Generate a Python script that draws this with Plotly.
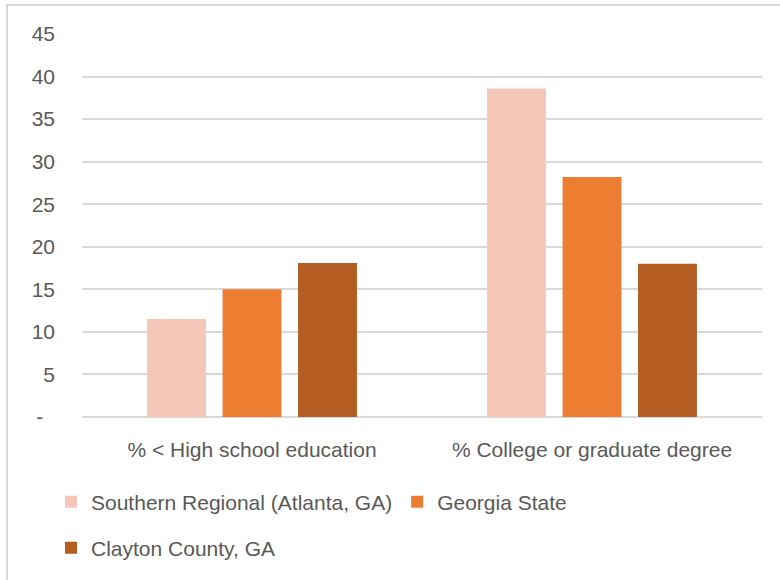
import plotly.graph_objects as go

categories = ["% < High school education", "% College or graduate degree"]
series_names = ["Southern Regional (Atlanta, GA)", "Georgia State", "Clayton County, GA"]
southern = [11.5, 38.6]
georgia = [15.0, 28.2]
clayton = [18.1, 18.0]
colors = ["#F4C7B9", "#ED7D31", "#B45C21"]
tick_vals = [0, 5, 10, 15, 20, 25, 30, 35, 40, 45]
tick_text = ["-\u00a0\u00a0", "5", "10", "15", "20", "25", "30", "35", "40", "45"]

FONT = "Liberation Sans, Arial, sans-serif"
TXT = "#595959"

fig = go.Figure()
for name, vals, col, lg in zip(series_names, [southern, georgia, clayton], colors,
                               ["legend", "legend", "legend2"]):
    fig.add_trace(go.Bar(x=categories, y=vals, name=name, marker_color=col,
                         marker_line_width=0, legend=lg))

W, H = 780, 580
L, R, T, B = 82, 18, 34, 163
pw, ph = W - L - R, H - T - B

def px_x(p):
    return (p - L) / pw

def px_y(p):
    return (H - B - p) / ph

fig.update_layout(
    width=W, height=H,
    margin=dict(l=L, r=R, t=T, b=B),
    paper_bgcolor="white", plot_bgcolor="white",
    font=dict(family=FONT, size=21, color=TXT),
    barmode="group", bargap=0.334, bargroupgap=0.22,
    showlegend=True,
    legend=dict(orientation="h", x=px_x(51), xanchor="left", y=px_y(502), yanchor="middle",
                font=dict(family=FONT, size=21, color=TXT), bgcolor="rgba(0,0,0,0)",
                itemclick=False, tracegroupgap=0),
    legend2=dict(orientation="h", x=px_x(51), xanchor="left", y=px_y(548), yanchor="middle",
                 font=dict(family=FONT, size=21, color=TXT), bgcolor="rgba(0,0,0,0)",
                 itemclick=False),
    xaxis=dict(showgrid=False, showline=False, ticks="", ticklabelstandoff=18,
               tickfont=dict(family=FONT, size=21, color=TXT), zeroline=False),
    yaxis=dict(range=[0, 45], tickvals=tick_vals, ticktext=tick_text,
               showgrid=True, gridcolor="#D9D9D9", gridwidth=1.5,
               zeroline=True, zerolinecolor="#D9D9D9", zerolinewidth=1.5,
               showline=False, ticks="", ticklabelstandoff=26,
               tickfont=dict(family=FONT, size=21, color=TXT)),
    shapes=[dict(type="rect", xref="paper", yref="paper",
                 x0=px_x(7), x1=px_x(800), y0=px_y(600), y1=px_y(5),
                 line=dict(color="#D9D9D9", width=2), fillcolor="rgba(0,0,0,0)", layer="below")],
)

fig.write_html("out.html")
